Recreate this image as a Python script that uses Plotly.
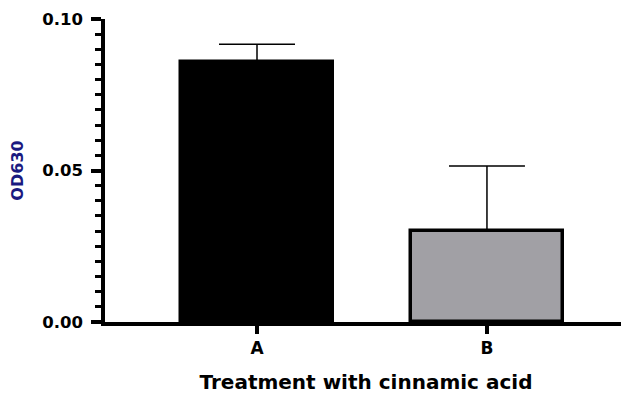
import plotly.graph_objects as go

categories = ["A", "B"]
means = [0.0858, 0.0300]
err_plus = [0.0059, 0.0215]
fill_colors = ["#000000", "#a1a0a5"]
y_tick_vals = [0.0, 0.05, 0.10]
y_tick_text = ["0.00", "0.05", "0.10"]

FONT = "DejaVu Sans, Arial, sans-serif"

fig = go.Figure()
fig.add_trace(go.Bar(
    x=[0, 1],
    y=means,
    width=0.665,
    marker=dict(color=fill_colors, line=dict(color="#000000", width=3.5)),
    error_y=dict(type="data", array=err_plus, arrayminus=[0, 0], symmetric=False,
                 color="#000000", thickness=1.5, width=38),
    showlegend=False,
))

fig.update_layout(
    width=621, height=386,
    margin=dict(l=97, r=2, t=11, b=72),
    plot_bgcolor="white", paper_bgcolor="white",
    bargap=0,
    xaxis=dict(
        range=[-0.661, 1.609], automargin=False,
        tickvals=[0, 1], ticktext=categories,
        showline=True, linecolor="#000000", linewidth=3.5,
        ticks="outside", ticklen=8, tickwidth=3.5, tickcolor="#000000",
        showgrid=False, zeroline=False,
        tickfont=dict(family=FONT, size=17, color="#000000", weight="bold"),
        title=dict(text="Treatment with cinnamic acid", standoff=19,
                   font=dict(family=FONT, size=20, color="#000000", weight="bold")),
    ),
    yaxis=dict(
        range=[0, 0.10], automargin=False,
        tickvals=y_tick_vals, ticktext=y_tick_text,
        showline=True, linecolor="#000000", linewidth=3.5,
        ticks="outside", ticklen=10, tickwidth=3.5, tickcolor="#000000",
        ticklabelstandoff=5,
        minor=dict(dtick=0.005, ticks="outside", ticklen=6, tickwidth=3, tickcolor="#000000", showgrid=False),
        showgrid=False, zeroline=False,
        tickfont=dict(family=FONT, size=16.5, color="#000000", weight="bold"),
        title=dict(text="OD630", standoff=18,
                   font=dict(family=FONT, size=16, color="#1a1a80", weight="bold")),
    ),
)

fig.write_html("out.html")
